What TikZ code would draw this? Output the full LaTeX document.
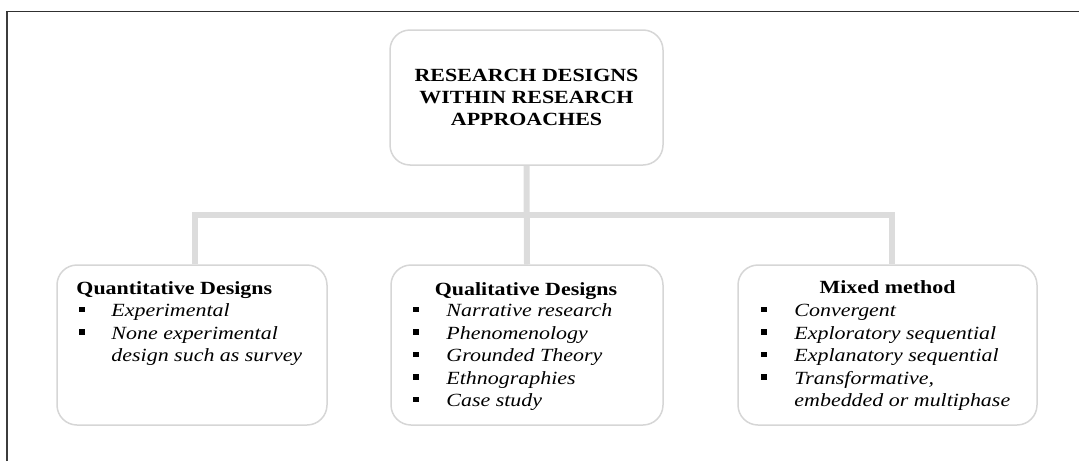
\documentclass[tikz,border=0pt]{standalone}
\usepackage{fontspec}
\setmainfont{Liberation Serif}[FakeStretch=1.18]
\usetikzlibrary{calc}
\pgfdeclarelayer{background}
\pgfsetlayers{background,main}

\newcommand\txtsize{\fontsize{18.6pt}{22.5pt}\selectfont}
\newcommand\headsize{\fontsize{18.6pt}{21.7pt}\selectfont}

\definecolor{framegray}{RGB}{60,60,60}
\definecolor{boxgray}{RGB}{214,214,214}
\definecolor{linkgray}{RGB}{220,220,220}

\tikzset{
  roundbox/.style={draw=boxgray, line width=1.5pt, fill=white,
    rounded corners=20pt, inner sep=0pt},
  link/.style={draw=linkgray, line width=6pt},
  ttl/.style={font=\txtsize\bfseries, inner sep=0pt, anchor=base},
  itm/.style={font=\txtsize\itshape, inner sep=0pt, anchor=base west},
  sq/.style={fill=black}
}

\begin{document}
\begin{tikzpicture}[x=1pt,y=-1pt]
  \useasboundingbox (0,0) rectangle (1079,461);

  % open frame: left and top rules only
  \draw[framegray, line width=2pt] (7,461) -- (7,11);
  \draw[framegray!80!black, line width=1pt] (6,11.5) -- (1079,11.5);

  % root box
  \node[roundbox, minimum width=273pt, minimum height=135pt, align=center,
        font=\headsize\bfseries] (root) at (526.5,97.5)
        {RESEARCH DESIGNS\\WITHIN RESEARCH\\APPROACHES};

  % three approach boxes
  \node[roundbox, minimum width=270pt, minimum height=160pt] (quant) at (192,345) {};
  \node[roundbox, minimum width=272pt, minimum height=160pt] (qual)  at (527,345) {};
  \node[roundbox, minimum width=299pt, minimum height=160pt] (mixed) at (887.5,345) {};

  % tree connectors behind the boxes
  \coordinate (hub) at (526,215);
  \coordinate (lq) at ([xshift=3pt]quant.north);
  \coordinate (rm) at ([xshift=4.5pt]mixed.north);
  \begin{pgfonlayer}{background}
    \draw[link] (root.south) -- (qual.north);
    \draw[link] (lq) -- (lq |- hub) -| (rm);
  \end{pgfonlayer}

  % Quantitative
  \node[ttl, anchor=base west] (quantT) at ($(quant.north west)+(20,30)$) {Quantitative Designs};
  \foreach \txt [count=\i] in {Experimental, None experimental} {
    \node[itm] (qn\i) at ($(quant.north west)+(55,{30+22.5*\i})$) {\txt};
    \fill[sq] ([xshift=-32pt,yshift=4.5pt]qn\i.base west) rectangle ++(5.5,-5.5);
  }
  \node[itm] (qn3) at ($(quant.north west)+(55,97.5)$) {design such as survey};

  % Qualitative
  \node[ttl] (qualT) at ($(qual.north)+(-1,31)$) {Qualitative Designs};
  \foreach \txt [count=\i] in {Narrative research, Phenomenology, Grounded Theory,
                               Ethnographies, Case study} {
    \node[itm] (ql\i) at ($(qual.north west)+(56,{30+22.5*\i})$) {\txt};
    \fill[sq] ([xshift=-33pt,yshift=4.5pt]ql\i.base west) rectangle ++(5.5,-5.5);
  }

  % Mixed method
  \node[ttl] (mixedT) at ($(mixed.north)+(0,29)$) {Mixed method};
  \foreach \txt [count=\i] in {Convergent, Exploratory sequential,
                               Explanatory sequential, {Transformative,}} {
    \node[itm] (mx\i) at ($(mixed.north west)+(57,{30+22.5*\i})$) {\txt};
    \fill[sq] ([xshift=-33pt,yshift=4.5pt]mx\i.base west) rectangle ++(5.5,-5.5);
  }
  \node[itm] (mx5) at ($(mixed.north west)+(57,142.5)$) {embedded or multiphase};
\end{tikzpicture}
\end{document}
